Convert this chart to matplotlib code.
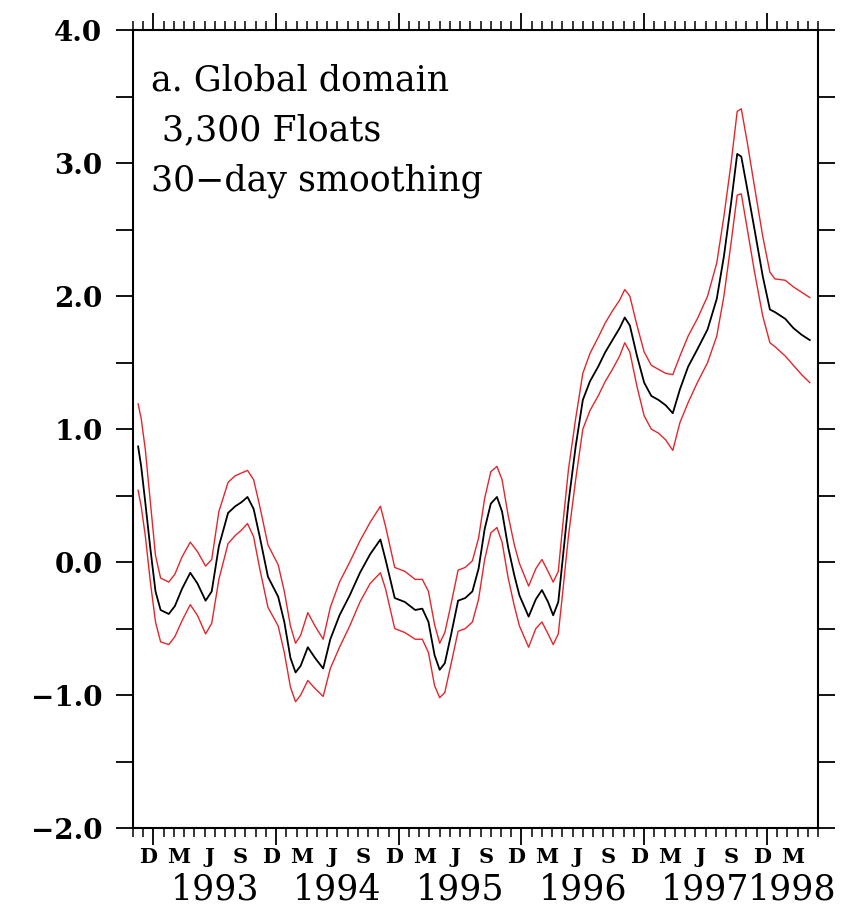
import matplotlib
matplotlib.use("Agg")
import matplotlib.pyplot as plt
import matplotlib.transforms as mtransforms
from matplotlib.ticker import MultipleLocator, FuncFormatter

# months counted from 1 Jan 1993
months = [-1.5, -1.2, -0.8, -0.3, 0.2, 0.7, 1.5, 2.1, 2.8, 3.6, 4.3, 5.1, 5.7,
          6.4, 7.3, 8.0, 8.6, 9.2, 9.8, 10.4, 11.2, 12.2, 12.8, 13.4, 13.9, 14.4,
          15.1, 15.8, 16.6, 17.3, 18.2, 19.2, 20.2, 21.2, 22.2, 22.7, 23.6, 24.6,
          25.6, 26.3, 26.9, 27.5, 28.0, 28.5, 29.1, 29.8, 30.5, 31.2, 31.8, 32.4,
          33.0, 33.6, 34.1, 34.7, 35.3, 35.8, 36.7, 37.4, 38.0, 38.6, 39.1, 39.6,
          40.0, 40.6, 41.3, 42.0, 42.7, 43.5, 44.2, 44.9, 45.6, 46.1, 46.6, 47.3,
          48.0, 48.7, 49.4, 50.1, 50.8, 51.5, 52.3, 53.2, 54.2, 55.1, 55.8, 56.5,
          57.1, 57.5, 58.1, 58.8, 59.6, 60.3, 60.8, 61.8, 62.6, 63.4, 64.2]

mean = [0.87, 0.72, 0.45, 0.10, -0.22, -0.36, -0.39, -0.33, -0.20, -0.08, -0.16,
        -0.29, -0.22, 0.12, 0.37, 0.42, 0.45, 0.49, 0.40, 0.19, -0.11, -0.26,
        -0.45, -0.72, -0.83, -0.78, -0.64, -0.72, -0.80, -0.58, -0.40, -0.25,
        -0.08, 0.06, 0.17, 0.02, -0.27, -0.30, -0.36, -0.35, -0.45, -0.70,
        -0.81, -0.76, -0.55, -0.29, -0.27, -0.22, -0.05, 0.25, 0.44, 0.49, 0.38,
        0.11, -0.10, -0.25, -0.41, -0.28, -0.21, -0.30, -0.40, -0.30, 0.00,
        0.45, 0.87, 1.22, 1.36, 1.47, 1.58, 1.67, 1.76, 1.84, 1.78, 1.55, 1.35,
        1.25, 1.22, 1.18, 1.12, 1.30, 1.47, 1.60, 1.75, 1.98, 2.30, 2.70, 3.07,
        3.05, 2.80, 2.50, 2.15, 1.90, 1.88, 1.83, 1.76, 1.71, 1.67]

upper = [1.19, 1.08, 0.85, 0.45, 0.05, -0.12, -0.15, -0.09, 0.04, 0.15, 0.08,
         -0.03, 0.02, 0.38, 0.60, 0.65, 0.67, 0.69, 0.62, 0.42, 0.13, -0.02,
         -0.22, -0.48, -0.61, -0.55, -0.38, -0.48, -0.58, -0.34, -0.15, 0.00,
         0.16, 0.30, 0.42, 0.27, -0.04, -0.07, -0.13, -0.13, -0.22, -0.47,
         -0.61, -0.53, -0.32, -0.06, -0.04, 0.01, 0.18, 0.48, 0.68, 0.72, 0.62,
         0.35, 0.13, -0.01, -0.18, -0.05, 0.02, -0.07, -0.15, -0.07, 0.25,
         0.70, 1.08, 1.42, 1.57, 1.69, 1.80, 1.89, 1.97, 2.05, 2.00, 1.78, 1.58,
         1.48, 1.45, 1.42, 1.41, 1.55, 1.70, 1.83, 2.00, 2.25, 2.60, 3.00, 3.39,
         3.41, 3.15, 2.82, 2.45, 2.18, 2.13, 2.12, 2.07, 2.03, 1.99]

lower = [0.54, 0.42, 0.20, -0.15, -0.45, -0.60, -0.62, -0.56, -0.44, -0.32,
         -0.40, -0.54, -0.46, -0.13, 0.14, 0.20, 0.24, 0.29, 0.19, -0.05,
         -0.34, -0.48, -0.68, -0.94, -1.05, -1.00, -0.89, -0.95, -1.01, -0.80,
         -0.64, -0.48, -0.30, -0.16, -0.08, -0.20, -0.50, -0.53, -0.58, -0.58,
         -0.68, -0.93, -1.02, -0.98, -0.77, -0.52, -0.50, -0.45, -0.28, 0.02,
         0.22, 0.26, 0.15, -0.12, -0.33, -0.48, -0.64, -0.50, -0.45, -0.54,
         -0.62, -0.54, -0.25, 0.20, 0.62, 1.00, 1.14, 1.25, 1.36, 1.45, 1.55,
         1.65, 1.58, 1.32, 1.10, 1.00, 0.97, 0.92, 0.84, 1.05, 1.20, 1.35, 1.50,
         1.70, 2.00, 2.40, 2.76, 2.77, 2.50, 2.18, 1.85, 1.65, 1.62, 1.55, 1.48,
         1.41, 1.35]

years = [1993, 1994, 1995, 1996, 1997, 1998]
month_letters = ["D", "M", "J", "S"]
month_numbers = [12, 3, 6, 9]
panel_text = ["a. Global domain", " 3,300 Floats", "30\u2212day smoothing"]

serif = "DejaVu Serif"
t = [1993 + m / 12.0 for m in months]

fig = plt.figure(figsize=(8.45, 9.18), dpi=100)
ax = fig.add_axes([0.1574, 0.098, 0.8106, 0.869])

ax.plot(t, upper, color="#e4262b", lw=1.0)
ax.plot(t, lower, color="#e4262b", lw=1.0)
ax.plot(t, mean, color="black", lw=1.3)

x0, x1 = 1992 + 10 / 12.0, 1998 + 5 / 12.0
ax.set_xlim(x0, x1)
ax.set_ylim(-2.0, 4.0)

for s in ax.spines.values():
    s.set_linewidth(1.5)

# y axis: ticks every 0.5 on both sides, labels on integers
ax.yaxis.set_major_locator(MultipleLocator(1.0))
ax.yaxis.set_minor_locator(MultipleLocator(0.5))
ax.yaxis.set_major_formatter(FuncFormatter(lambda v, p: f"{v:.1f}".replace("-", "\u2212")))
ax.tick_params(axis="y", which="both", direction="out", length=12, width=1.3,
               left=True, right=True, labelright=False, pad=10)
for lab in ax.get_yticklabels():
    lab.set_fontfamily(serif)
    lab.set_fontweight("bold")
    lab.set_fontsize(20)

# x axis: monthly ticks, years longer, on top and bottom
ax.xaxis.set_major_locator(MultipleLocator(1.0))
ax.xaxis.set_minor_locator(MultipleLocator(1 / 12.0))
ax.tick_params(axis="x", which="major", direction="out", length=12, width=1.3,
               top=True, bottom=True, labelbottom=False)
ax.tick_params(axis="x", which="minor", direction="out", length=6.5, width=1.1,
               top=True, bottom=True)

trans = mtransforms.blended_transform_factory(ax.transData, ax.transAxes)

# quarter-month letters at mid-month
for yr in range(1992, 1999):
    for letter, mo in zip(month_letters, month_numbers):
        xm = yr + (mo - 1) / 12.0 + 1 / 24.0
        if x0 < xm < x1:
            ax.text(xm, -0.024, letter, transform=trans, ha="center", va="top",
                    fontsize=15, fontweight="bold", family=serif)

# year labels centred on the visible part of each year
for yr in years:
    a, b = max(yr, x0), min(yr + 1, x1)
    ax.text((a + b) / 2, -0.056, str(yr), transform=trans, ha="center",
            va="top", fontsize=25, family=serif)

for i, line in enumerate(panel_text):
    ax.text(0.027, 0.937 - i * 0.0625, line, transform=ax.transAxes,
            fontsize=25, family=serif, va="center", ha="left")

fig.savefig("out.png", dpi=100)
